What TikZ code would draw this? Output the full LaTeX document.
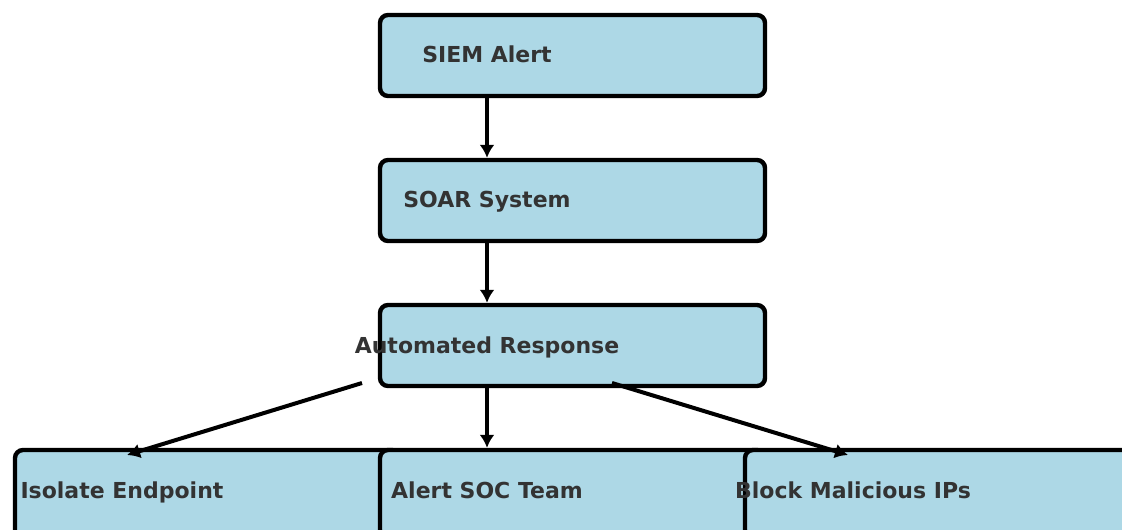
\documentclass[tikz,border=0pt]{standalone}
\usepackage{fontspec}
\setmainfont{DejaVu Sans}
\usetikzlibrary{arrows.meta}
\definecolor{boxblue}{HTML}{ADD8E6}
\definecolor{textgray}{HTML}{333333}
\tikzstyle{block} = [rectangle, draw, fill=boxblue, line width=2.2pt,
    rounded corners=4pt, minimum width=192.5pt, minimum height=40.5pt, inner sep=0pt]
\tikzstyle{txt} = [text=textgray, anchor=base, inner sep=0pt,
    font=\fontsize{11}{13}\selectfont\bfseries]
\tikzstyle{line} = [draw, line width=2pt, -{Latex[length=6.5pt,width=7.5pt]}]

\begin{document}
\begin{tikzpicture}[x=0.5pt, y=-0.5pt]
                \clip (0,0) rectangle (1122,529);
                \node [block] at (572.5,55.5) (siem) {};
                \node [block] at (572.5,200.5) (soar) {};
                \node [block] at (572.5,345.5) (auto) {};
                \node [block, minimum height=44pt] at (207.5,494) (isolate) {};
                \node [block, minimum height=44pt] at (572.5,494) (soc) {};
                \node [block, minimum height=44pt] at (937.5,494) (block) {};
                \node [txt] at (487,63) (siemtxt) {SIEM Alert};
                \node [txt] at (487,207) (soartxt) {SOAR System};
                \node [txt] at (487,353) (autotxt) {Automated Response};
                \node [txt] at (122,498) (isolatetxt) {Isolate Endpoint};
                \node [txt] at (487,498) (soctxt) {Alert SOC Team};
                \node [txt] at (853,498) (blocktxt) {Block Malicious IPs};
                \coordinate (leftout) at (362,383);
                \coordinate (leftin) at (127,455);
                \coordinate (rightout) at (612,383);
                \coordinate (rightin) at (848,455);
                \path [line] (siemtxt |- siem.south) -- (soartxt |- soar.north);
                \path [line] (soartxt |- soar.south) -- (autotxt |- auto.north);
                \path [line] (autotxt |- auto.south) -- (soctxt |- soc.north);
                \path [line] (leftout) -- (leftin);
                \path [line] (rightout) -- (rightin);
            \end{tikzpicture}
\end{document}
